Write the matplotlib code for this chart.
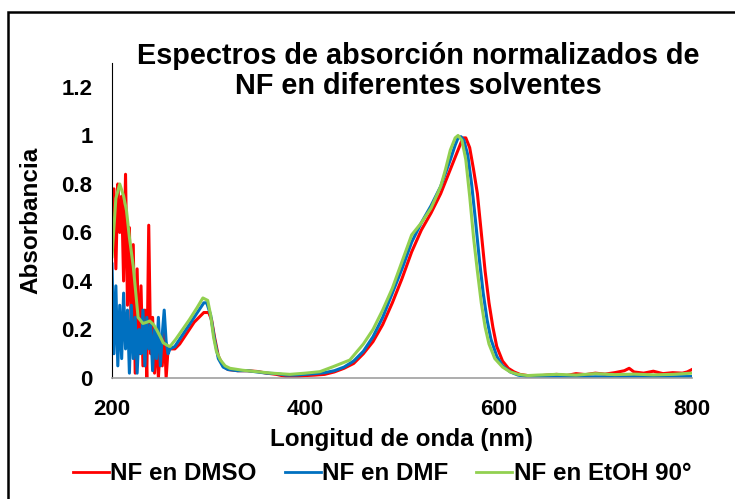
import matplotlib.pyplot as plt
import matplotlib.patches as patches

plt.rcParams['font.family'] = ['Liberation Sans', 'DejaVu Sans']
plt.rcParams['font.weight'] = 'bold'
plt.rcParams['axes.labelweight'] = 'bold'

# wavelengths (nm) and normalized absorbance
wl_dmso = [200, 202, 204, 206, 208, 210, 212, 214, 216, 218, 220, 222, 224, 226, 228, 230,
           232, 234, 236, 238, 240, 242, 244, 246, 248, 250, 252, 254, 256, 258, 260,
           265, 270, 275, 280, 285, 290, 295, 300, 303, 306, 310, 315, 320, 330, 340, 350,
           360, 370, 380, 390, 400, 410, 420, 430, 440, 450, 460, 470, 480, 490, 500, 510,
           520, 530, 540, 550, 556, 560, 563, 566, 570, 574, 578, 582, 586, 590, 594, 598,
           604, 610, 616, 622, 630, 640, 650, 660, 670, 680, 690, 700, 710, 720, 730, 735,
           740, 750, 760, 770, 780, 790, 795, 800]
abs_dmso = [0.55, 0.78, 0.45, 0.80, 0.60, 0.75, 0.40, 0.84, 0.30, 0.62, 0.15, 0.55, 0.02, 0.45,
            0.10, 0.38, 0.05, 0.28, 0.0, 0.63, 0.10, 0.25, 0.02, 0.18, 0.0, 0.15, 0.05, 0.20,
            0.0, 0.12, 0.12,
            0.12, 0.14, 0.17, 0.20, 0.23, 0.25, 0.27, 0.27, 0.24, 0.17, 0.09, 0.05, 0.035,
            0.03, 0.03, 0.027, 0.02, 0.015, 0.006, 0.005, 0.01, 0.012, 0.015, 0.025, 0.04,
            0.06, 0.10, 0.15, 0.22, 0.31, 0.41, 0.52, 0.61, 0.68, 0.76, 0.86, 0.92, 0.96,
            0.99, 0.99, 0.95, 0.86, 0.76, 0.60, 0.44, 0.31, 0.21, 0.13, 0.07, 0.04, 0.025,
            0.015, 0.01, 0.008, 0.012, 0.015, 0.01, 0.018, 0.014, 0.02, 0.016, 0.022, 0.03,
            0.04, 0.025, 0.02, 0.028, 0.018, 0.022, 0.02, 0.025, 0.035]

wl_dmf = [200, 202, 204, 206, 208, 210, 212, 214, 216, 218, 220, 222, 224, 226, 228, 230,
          232, 234, 236, 238, 240, 242, 244, 246, 248, 250, 252, 254, 256, 258, 260,
          265, 270, 275, 280, 285, 290, 295, 298, 302, 306, 310, 315, 320, 330, 340, 350,
          360, 370, 380, 390, 400, 410, 420, 430, 440, 450, 460, 470, 480, 490, 500, 510,
          520, 530, 540, 550, 555, 558, 561, 564, 568, 572, 576, 580, 584, 588, 592, 598,
          604, 612, 620, 630, 640, 660, 680, 700, 720, 740, 760, 780, 800]
abs_dmf = [0.47, 0.10, 0.38, 0.05, 0.30, 0.08, 0.35, 0.12, 0.28, 0.02, 0.30, 0.08, 0.25, 0.02,
           0.20, 0.10, 0.28, 0.05, 0.25, 0.12, 0.22, 0.03, 0.20, 0.08, 0.25, 0.05, 0.18, 0.28,
           0.15, 0.10, 0.12,
           0.13, 0.16, 0.19, 0.22, 0.25, 0.28, 0.31, 0.31, 0.26, 0.16, 0.08, 0.045, 0.035,
           0.03, 0.03, 0.025, 0.02, 0.018, 0.012, 0.012, 0.015, 0.018, 0.022, 0.03, 0.045,
           0.07, 0.11, 0.17, 0.25, 0.35, 0.45, 0.56, 0.64, 0.71, 0.79, 0.90, 0.96, 0.99,
           0.995, 0.98, 0.92, 0.80, 0.65, 0.49, 0.35, 0.24, 0.16, 0.09, 0.05, 0.025, 0.012,
           0.005, 0.003, 0.004, 0.003, 0.005, 0.004, 0.006, 0.004, 0.005, 0.006]

wl_etoh = [200, 204, 208, 212, 215, 218, 222, 227, 232, 236, 239, 243, 246, 250, 253, 257,
           260, 266, 273, 280, 288, 294, 299, 302, 305, 308, 312, 317, 322, 335, 350, 365,
           384, 400, 415, 429, 446, 460, 470, 480, 490, 500, 510, 520, 530, 540, 545, 550,
           555, 558, 562, 566, 570, 574, 578, 582, 586, 590, 596, 604, 612, 620, 630, 640,
           660, 680, 700, 720, 740, 760, 780, 800]
abs_etoh = [0.50, 0.74, 0.80, 0.75, 0.69, 0.58, 0.46, 0.25, 0.225, 0.23, 0.235, 0.22, 0.20,
            0.17, 0.145, 0.135, 0.13, 0.16, 0.20, 0.24, 0.29, 0.33, 0.32, 0.26, 0.17, 0.11,
            0.075, 0.05, 0.04, 0.032, 0.026, 0.02, 0.015, 0.02, 0.026, 0.047, 0.074, 0.14,
            0.20, 0.28, 0.37, 0.48, 0.59, 0.64, 0.70, 0.79, 0.86, 0.94, 0.99, 1.0, 0.98,
            0.90, 0.75, 0.58, 0.44, 0.31, 0.21, 0.14, 0.08, 0.045, 0.025, 0.015, 0.01, 0.012,
            0.015, 0.012, 0.018, 0.014, 0.016, 0.013, 0.015, 0.02]

fig = plt.figure(figsize=(7.35, 4.99), dpi=100)
ax = fig.add_axes([112 / 735, 121 / 499, 580 / 735, 315.3 / 499])

ax.plot(wl_dmso, abs_dmso, color='#FF0000', lw=2.2, label='NF en DMSO')
ax.plot(wl_dmf, abs_dmf, color='#0070C0', lw=2.2, label='NF en DMF')
ax.plot(wl_etoh, abs_etoh, color='#92D050', lw=2.2, label='NF en EtOH 90°')

ax.set_xlim(200, 800)
ax.set_ylim(0, 1.3)
ax.set_xticks([200, 400, 600, 800])
ax.set_yticks([0, 0.2, 0.4, 0.6, 0.8, 1, 1.2])
ax.set_yticklabels(['0', '0.2', '0.4', '0.6', '0.8', '1', '1.2'])
ax.tick_params(length=0, labelsize=16)
ax.tick_params(axis='y', pad=14)
ax.tick_params(axis='x', pad=15)
for s in ['top', 'right']:
    ax.spines[s].set_visible(False)
ax.spines['left'].set_color('black')
ax.spines['bottom'].set_color('#A0A0A0')
ax.spines['bottom'].set_linewidth(1.2)
ax.set_xlabel('Longitud de onda (nm)', fontsize=17.5, labelpad=6)
ax.set_ylabel('Absorbancia', fontsize=17.5, labelpad=14)

fig.text(418 / 735, 1 - 71 / 499, 'Espectros de absorción normalizados de\nNF en diferentes solventes',
         ha='center', va='center', fontsize=20.8, linespacing=1.05)

leg = fig.legend(loc='center', bbox_to_anchor=(382 / 735, 1 - 474 / 499), ncol=3, frameon=False,
                 fontsize=17.4, handlelength=1.5, handletextpad=0.05, columnspacing=1.15)
for h in leg.get_lines():
    h.set_linewidth(2)

# chart-area border (only left and top edges are inside the image)
fig.patches.append(patches.Rectangle((8 / 735, -0.1), 1.2, 1 - 12 / 499 + 0.1, transform=fig.transFigure,
                                     fill=False, edgecolor='black', lw=1.8))

fig.savefig('out.png', dpi=100)
